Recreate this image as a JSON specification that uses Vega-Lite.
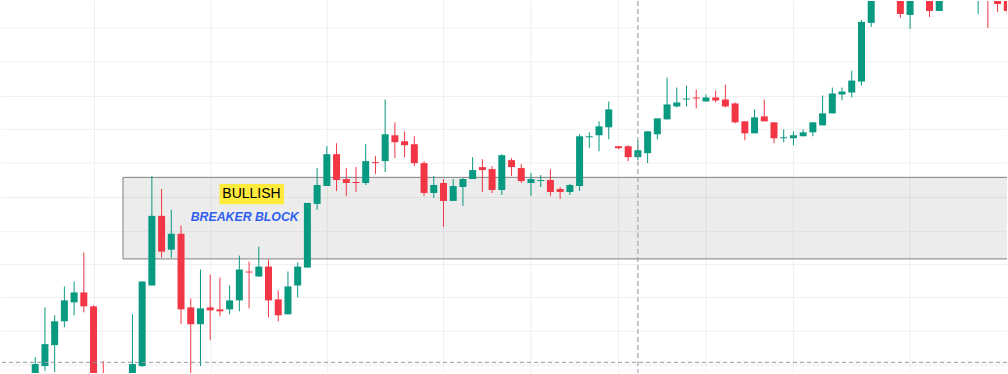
{
  "$schema": "https://vega.github.io/schema/vega-lite/v6.json",
  "width": 1008,
  "height": 374,
  "autosize": {"type": "fit", "contains": "padding"},
  "padding": 0,
  "background": "#ffffff",
  "config": {"view": {"stroke": null}, "scale": {"continuousPadding": 0}},
  "datasets": {
    "candles": [
      {"i": 0, "o": -11, "c": 9, "h": 16, "l": -16},
      {"i": 1, "o": 7, "c": 29, "h": 66, "l": 2},
      {"i": 2, "o": 28, "c": 52, "h": 58, "l": 1},
      {"i": 3, "o": 52, "c": 73, "h": 87, "l": 46},
      {"i": 4, "o": 71, "c": 81, "h": 92, "l": 58},
      {"i": 5, "o": 81, "c": 67, "h": 121, "l": 61},
      {"i": 6, "o": 67, "c": -16, "h": 68, "l": -21},
      {"i": 7, "o": -6, "c": -21, "h": 12, "l": -26},
      {"i": 10, "o": -11, "c": 9, "h": 59, "l": -16},
      {"i": 11, "o": 7, "c": 92, "h": 92, "l": 6},
      {"i": 12, "o": 88, "c": 158, "h": 198, "l": 88},
      {"i": 13, "o": 158, "c": 122, "h": 185, "l": 116},
      {"i": 14, "o": 124, "c": 140, "h": 164, "l": 116},
      {"i": 15, "o": 140, "c": 64, "h": 148, "l": 49},
      {"i": 16, "o": 66, "c": 49, "h": 75, "l": -4},
      {"i": 17, "o": 49, "c": 65, "h": 104, "l": 7},
      {"i": 18, "o": 66, "c": 63, "h": 99, "l": 33},
      {"i": 19, "o": 64, "c": 62, "h": 96, "l": 57},
      {"i": 20, "o": 64, "c": 73, "h": 88, "l": 59},
      {"i": 21, "o": 73, "c": 104, "h": 118, "l": 62},
      {"i": 22, "o": 102, "c": 101, "h": 112, "l": 65},
      {"i": 23, "o": 97, "c": 107, "h": 127, "l": 97},
      {"i": 24, "o": 107, "c": 73, "h": 114, "l": 56},
      {"i": 25, "o": 74, "c": 58, "h": 83, "l": 52},
      {"i": 26, "o": 59, "c": 87, "h": 102, "l": 59},
      {"i": 27, "o": 88, "c": 107, "h": 111, "l": 76},
      {"i": 28, "o": 106, "c": 171, "h": 171, "l": 106},
      {"i": 29, "o": 170, "c": 189, "h": 206, "l": 164},
      {"i": 30, "o": 188, "c": 220, "h": 228, "l": 188},
      {"i": 31, "o": 220, "c": 194, "h": 231, "l": 183},
      {"i": 32, "o": 195, "c": 191, "h": 206, "l": 178},
      {"i": 33, "o": 192, "c": 191, "h": 207, "l": 182},
      {"i": 34, "o": 191, "c": 213, "h": 230, "l": 189},
      {"i": 35, "o": 212, "c": 211, "h": 218, "l": 200},
      {"i": 36, "o": 213, "c": 240, "h": 275, "l": 202},
      {"i": 37, "o": 239, "c": 232, "h": 252, "l": 216},
      {"i": 38, "o": 233, "c": 229, "h": 243, "l": 217},
      {"i": 39, "o": 230, "c": 211, "h": 238, "l": 208},
      {"i": 40, "o": 211, "c": 181, "h": 213, "l": 178},
      {"i": 41, "o": 181, "c": 189, "h": 198, "l": 176},
      {"i": 42, "o": 191, "c": 173, "h": 195, "l": 147},
      {"i": 43, "o": 173, "c": 188, "h": 195, "l": 173},
      {"i": 44, "o": 187, "c": 195, "h": 196, "l": 168},
      {"i": 45, "o": 195, "c": 204, "h": 217, "l": 195},
      {"i": 46, "o": 207, "c": 204, "h": 215, "l": 182},
      {"i": 47, "o": 205, "c": 184, "h": 208, "l": 181},
      {"i": 48, "o": 184, "c": 219, "h": 220, "l": 179},
      {"i": 49, "o": 214, "c": 207, "h": 216, "l": 198},
      {"i": 50, "o": 206, "c": 193, "h": 210, "l": 191},
      {"i": 51, "o": 191, "c": 195, "h": 201, "l": 178},
      {"i": 52, "o": 193, "c": 194, "h": 199, "l": 187},
      {"i": 53, "o": 194, "c": 182, "h": 205, "l": 178},
      {"i": 54, "o": 185, "c": 182, "h": 187, "l": 175},
      {"i": 55, "o": 182, "c": 189, "h": 190, "l": 179},
      {"i": 56, "o": 188, "c": 238, "h": 240, "l": 183},
      {"i": 57, "o": 237, "c": 238, "h": 242, "l": 226},
      {"i": 58, "o": 239, "c": 248, "h": 253, "l": 223},
      {"i": 59, "o": 247, "c": 265, "h": 273, "l": 235},
      {"i": 60, "o": 228, "c": 226, "h": 228, "l": 225},
      {"i": 61, "o": 228, "c": 217, "h": 229, "l": 213},
      {"i": 62, "o": 217, "c": 224, "h": 234, "l": 214},
      {"i": 63, "o": 221, "c": 243, "h": 243, "l": 211},
      {"i": 64, "o": 240, "c": 256, "h": 256, "l": 235},
      {"i": 65, "o": 255, "c": 270, "h": 297, "l": 255},
      {"i": 66, "o": 268, "c": 272, "h": 287, "l": 267},
      {"i": 67, "o": 275, "c": 276, "h": 289, "l": 268},
      {"i": 68, "o": 277, "c": 276, "h": 285, "l": 266},
      {"i": 69, "o": 273, "c": 277, "h": 280, "l": 273},
      {"i": 70, "o": 277, "c": 274, "h": 284, "l": 272},
      {"i": 71, "o": 275, "c": 268, "h": 290, "l": 267},
      {"i": 72, "o": 271, "c": 252, "h": 272, "l": 251},
      {"i": 73, "o": 253, "c": 241, "h": 253, "l": 234},
      {"i": 74, "o": 241, "c": 257, "h": 265, "l": 241},
      {"i": 75, "o": 258, "c": 253, "h": 275, "l": 253},
      {"i": 76, "o": 252, "c": 236, "h": 252, "l": 231},
      {"i": 77, "o": 236, "c": 237, "h": 245, "l": 232},
      {"i": 78, "o": 236, "c": 239, "h": 243, "l": 229},
      {"i": 79, "o": 238, "c": 242, "h": 245, "l": 238},
      {"i": 80, "o": 242, "c": 252, "h": 252, "l": 238},
      {"i": 81, "o": 249, "c": 261, "h": 279, "l": 249},
      {"i": 82, "o": 261, "c": 281, "h": 287, "l": 261},
      {"i": 83, "o": 280, "c": 283, "h": 287, "l": 274},
      {"i": 84, "o": 282, "c": 294, "h": 304, "l": 277},
      {"i": 85, "o": 293, "c": 353, "h": 355, "l": 289},
      {"i": 86, "o": 352, "c": 384, "h": 389, "l": 348},
      {"i": 89, "o": 389, "c": 361, "h": 394, "l": 357},
      {"i": 90, "o": 360, "c": 386, "h": 392, "l": 346},
      {"i": 92, "o": 394, "c": 364, "h": 399, "l": 358},
      {"i": 93, "o": 364, "c": 404, "h": 409, "l": 364},
      {"i": 97, "o": 384, "c": 404, "h": 414, "l": 361},
      {"i": 98, "o": 404, "c": 382, "h": 414, "l": 347},
      {"i": 99, "o": 384, "c": 371, "h": 389, "l": 363},
      {"i": 100, "o": 386, "c": 364, "h": 392, "l": 360}
    ],
    "hgrid": [
      {"y": 347}, {"y": 313}, {"y": 278}, {"y": 245}, {"y": 211}, {"y": 176.5},
      {"y": 142}, {"y": 109}, {"y": 76}, {"y": 42}, {"y": 8}
    ],
    "vgrid": [
      {"x": 6.1}, {"x": 18.1}, {"x": 30.05}, {"x": 42}, {"x": 51}, {"x": 60},
      {"x": 69}, {"x": 78}, {"x": 90}
    ],
    "box": [{"x1": 9.03, "x2": 110, "y1": 114.7, "y2": 196.7}],
    "boxh": [{"x1": 9.03, "x2": 110, "y": 114.7}, {"x1": 9.03, "x2": 110, "y": 196.7}],
    "boxv": [{"x": 9.03, "y1": 114.7, "y2": 196.7}],
    "tagbg": [{"x1": 18.96, "x2": 25.6, "y1": 169.7, "y2": 190}],
    "tag": [{"x": 22.25, "y": 179.6, "t": "BULLISH"}],
    "sub": [{"x": 21.55, "y": 157.3, "t": "BREAKER BLOCK"}],
    "crossv": [{"x": 62}],
    "crossh": [{"y": 10.7}]
  },
  "layer": [
    {
      "data": {"name": "hgrid"},
      "mark": {"type": "rule", "color": "#efefef", "strokeWidth": 1},
      "encoding": {
        "y": {"field": "y", "type": "quantitative", "scale": {"domain": [0, 374], "nice": false, "zero": false, "padding": 0}, "axis": null}
      }
    },
    {
      "data": {"name": "vgrid"},
      "mark": {"type": "rule", "color": "#efefef", "strokeWidth": 1},
      "encoding": {
        "x": {"field": "x", "type": "quantitative", "scale": {"domain": [-3.52, 99.97], "nice": false, "zero": false, "padding": 0}, "axis": null}
      }
    },
    {
      "data": {"name": "box"},
      "mark": {"type": "rect", "fill": "#9e9e9e", "fillOpacity": 0.2, "clip": true},
      "encoding": {
        "x": {"field": "x1", "type": "quantitative"},
        "x2": {"field": "x2"},
        "y": {"field": "y1", "type": "quantitative"},
        "y2": {"field": "y2"}
      }
    },
    {
      "data": {"name": "boxh"},
      "mark": {"type": "rule", "color": "#808080", "strokeWidth": 1, "clip": true},
      "encoding": {
        "x": {"field": "x1", "type": "quantitative"},
        "x2": {"field": "x2"},
        "y": {"field": "y", "type": "quantitative"}
      }
    },
    {
      "data": {"name": "boxv"},
      "mark": {"type": "rule", "color": "#808080", "strokeWidth": 1, "clip": true},
      "encoding": {
        "x": {"field": "x", "type": "quantitative"},
        "y": {"field": "y1", "type": "quantitative"},
        "y2": {"field": "y2"}
      }
    },
    {
      "data": {"name": "tagbg"},
      "mark": {"type": "rect", "fill": "#ffeb3b"},
      "encoding": {
        "x": {"field": "x1", "type": "quantitative"},
        "x2": {"field": "x2"},
        "y": {"field": "y1", "type": "quantitative"},
        "y2": {"field": "y2"}
      }
    },
    {
      "data": {"name": "tag"},
      "mark": {"type": "text", "font": "Liberation Sans", "fontSize": 14, "color": "#000000", "align": "center", "baseline": "middle"},
      "encoding": {
        "x": {"field": "x", "type": "quantitative"},
        "y": {"field": "y", "type": "quantitative"},
        "text": {"field": "t"}
      }
    },
    {
      "data": {"name": "sub"},
      "mark": {"type": "text", "font": "Liberation Sans", "fontSize": 12.3, "fontWeight": "bold", "fontStyle": "italic", "color": "#2f5ff0", "align": "center", "baseline": "middle"},
      "encoding": {
        "x": {"field": "x", "type": "quantitative"},
        "y": {"field": "y", "type": "quantitative"},
        "text": {"field": "t"}
      }
    },
    {
      "data": {"name": "candles"},
      "mark": {"type": "rule", "strokeWidth": 1, "clip": true},
      "encoding": {
        "x": {"field": "i", "type": "quantitative"},
        "y": {"field": "l", "type": "quantitative"},
        "y2": {"field": "h"},
        "color": {"condition": {"test": "datum.c >= datum.o", "value": "#089981"}, "value": "#f23645"}
      }
    },
    {
      "data": {"name": "candles"},
      "mark": {"type": "bar", "orient": "vertical", "size": 7, "clip": true},
      "encoding": {
        "x": {"field": "i", "type": "quantitative"},
        "y": {"field": "o", "type": "quantitative"},
        "y2": {"field": "c"},
        "color": {"condition": {"test": "datum.c >= datum.o", "value": "#089981"}, "value": "#f23645"}
      }
    },
    {
      "data": {"name": "crossv"},
      "mark": {"type": "rule", "color": "#9598a1", "strokeWidth": 1, "strokeDash": [5, 3]},
      "encoding": {
        "x": {"field": "x", "type": "quantitative"}
      }
    },
    {
      "data": {"name": "crossh"},
      "mark": {"type": "rule", "color": "#9598a1", "strokeWidth": 1, "strokeDash": [4, 3]},
      "encoding": {
        "y": {"field": "y", "type": "quantitative"}
      }
    }
  ]
}
